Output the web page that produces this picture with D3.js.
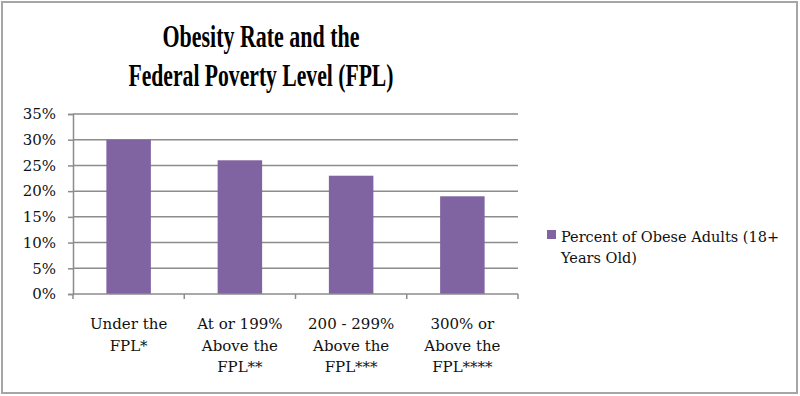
<!DOCTYPE html>
<html>
<head>
<meta charset="utf-8">
<script src="https://cdn.jsdelivr.net/npm/d3@7"></script>
<style>
  body { margin: 0; background: #fff; }
  svg { display: block; }
</style>
</head>
<body>
<svg width="800" height="396"></svg>
<script>
const categories = [
  ["Under the", "FPL*"],
  ["At or 199%", "Above the", "FPL**"],
  ["200 - 299%", "Above the", "FPL***"],
  ["300% or", "Above the", "FPL****"]
];
const values = [30, 26, 23, 19];
const yTicks = [0, 5, 10, 15, 20, 25, 30, 35];
const titleLines = ["Obesity Rate and the", "Federal Poverty Level (FPL)"];
const legendLines = ["Percent of Obese Adults (18+", "Years Old)"];

const svg = d3.select("svg");
const margin = ({top: 114, right: 282, bottom: 102, left: 73});
const width = 800, height = 396;
const barColor = "#8064a2";
const labelFont = "'DejaVu Serif', serif";

// outer frame
svg.append("rect")
    .attr("x", 2).attr("y", 2)
    .attr("width", width - 5).attr("height", height - 5)
    .attr("fill", "#fff")
    .attr("stroke", "#a6a6a6")
    .attr("stroke-width", 2);

const x = d3.scaleBand()
    .domain(d3.range(categories.length))
    .range([margin.left, width - margin.right])
    .paddingInner(0.6)
    .paddingOuter(0.3);

const y = d3.scaleLinear()
    .domain([0, 35])
    .range([height - margin.bottom, margin.top]);

// gridlines
svg.append("g")
  .selectAll("line")
  .data(yTicks.filter(d => d > 0))
  .join("line")
    .attr("x1", margin.left)
    .attr("x2", width - margin.right)
    .attr("y1", d => y(d))
    .attr("y2", d => y(d))
    .attr("stroke", "#8c8c8c")
    .attr("stroke-width", 1.5);

// bars
svg.append("g")
  .selectAll("rect")
  .data(values)
  .join("rect")
    .attr("x", (d, i) => x(i))
    .attr("y", d => y(d))
    .attr("width", x.bandwidth())
    .attr("height", d => y(0) - y(d))
    .attr("fill", barColor);

// y axis
const yAxis = svg.append("g")
    .attr("transform", `translate(${margin.left},0)`)
    .call(d3.axisLeft(y).tickValues(yTicks).tickSize(5).tickFormat(d => d + "%"));
yAxis.select(".domain").attr("stroke", "#8c8c8c").attr("stroke-width", 1.5);
yAxis.selectAll(".tick line").attr("stroke", "#8c8c8c").attr("stroke-width", 1.5);
yAxis.selectAll(".tick text")
    .attr("x", -17)
    .attr("font-family", labelFont)
    .attr("font-size", 15)
    .attr("fill", "#111");

// x axis (ticks at category boundaries)
const step = x.step();
const xEdges = d3.range(categories.length + 1).map(i => margin.left + i * step);
const xAxis = svg.append("g");
xAxis.append("line")
    .attr("x1", margin.left).attr("x2", width - margin.right)
    .attr("y1", y(0)).attr("y2", y(0))
    .attr("stroke", "#8c8c8c").attr("stroke-width", 1.5);
xAxis.selectAll(".edge")
  .data(xEdges)
  .join("line")
    .attr("class", "edge")
    .attr("x1", d => d).attr("x2", d => d)
    .attr("y1", y(0)).attr("y2", y(0) + 5)
    .attr("stroke", "#8c8c8c").attr("stroke-width", 1.5);

xAxis.selectAll("text")
  .data(categories)
  .join("text")
    .attr("text-anchor", "middle")
    .attr("font-family", labelFont)
    .attr("font-size", 15)
    .attr("fill", "#111")
    .each(function(lines, i) {
      d3.select(this).selectAll("tspan")
        .data(lines)
        .join("tspan")
          .attr("x", x(i) + x.bandwidth() / 2)
          .attr("y", (d, j) => 329 + j * 21.7)
          .text(d => d);
    });

// title
svg.append("g")
  .selectAll("text")
  .data(titleLines)
  .join("text")
    .attr("x", 261)
    .attr("y", (d, i) => 47 + i * 38.5)
    .attr("text-anchor", "middle")
    .attr("font-family", "'Liberation Serif', serif")
    .attr("font-weight", "bold")
    .attr("font-size", 32)
    .attr("textLength", (d, i) => [197, 265][i])
    .attr("lengthAdjust", "spacingAndGlyphs")
    .attr("fill", "#000")
    .text(d => d);

// legend
const legend = svg.append("g");
legend.append("rect")
    .attr("x", 547).attr("y", 230)
    .attr("width", 9).attr("height", 9)
    .attr("fill", barColor);
legend.append("text")
    .attr("font-family", labelFont)
    .attr("font-size", 14.5)
    .attr("fill", "#111")
  .selectAll("tspan")
  .data(legendLines)
  .join("tspan")
    .attr("x", 561)
    .attr("y", (d, i) => 241.5 + i * 21.7)
    .text(d => d);
</script>
</body>
</html>
